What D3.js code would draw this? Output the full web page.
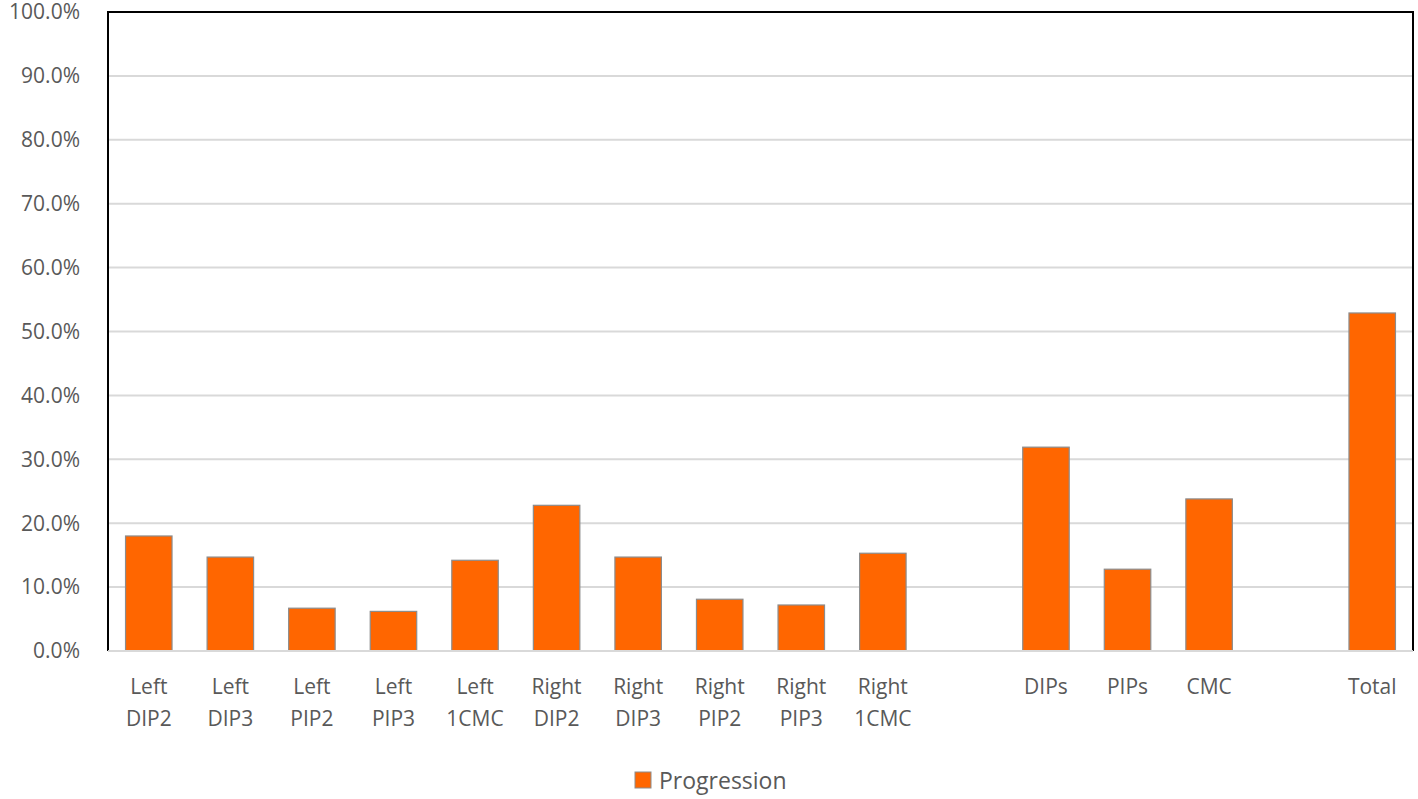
<!DOCTYPE html>
<html>
<head>
<meta charset="utf-8">
<script src="https://cdn.jsdelivr.net/npm/d3@7"></script>
<style>
  body { margin: 0; background: #fff; }
  text { font-family: "Open Sans", "DejaVu Sans", sans-serif; fill: #595959; }
</style>
</head>
<body>
<div class="canvas"></div>
<script>
// categories, blank slots are spacers between groups
const categories = ["Left\nDIP2", "Left\nDIP3", "Left\nPIP2", "Left\nPIP3", "Left\n1CMC",
  "Right\nDIP2", "Right\nDIP3", "Right\nPIP2", "Right\nPIP3", "Right\n1CMC",
  "gap1", "DIPs", "PIPs", "CMC", "gap2", "Total"];
const progression = [18.0, 14.7, 6.7, 6.2, 14.2, 22.8, 14.7, 8.1, 7.2, 15.3,
  null, 31.9, 12.8, 23.8, null, 52.9];
const yTicks = [0, 10, 20, 30, 40, 50, 60, 70, 80, 90, 100];

const dims = { width: 1418, height: 799 };
const m = { left: 108, right: 5, top: 12, bottom: 148 };

const svg = d3.select('.canvas').append('svg')
  .attr('width', dims.width)
  .attr('height', dims.height);

const x = d3.scaleBand()
  .domain(categories)
  .range([m.left, dims.width - m.right])
  .paddingInner(0.43)
  .paddingOuter(0.215);

const y = d3.scaleLinear()
  .domain([0, 100])
  .range([dims.height - m.bottom, m.top]);

// gridlines
svg.append('g').selectAll('line')
  .data(yTicks.slice(1, -1))
  .enter().append('line')
  .attr('x1', m.left).attr('x2', dims.width - m.right)
  .attr('y1', d => y(d)).attr('y2', d => y(d))
  .attr('stroke', '#d9d9d9').attr('stroke-width', 2);

// y labels
svg.append('g').selectAll('text')
  .data(yTicks)
  .enter().append('text')
  .attr('x', 80).attr('y', d => y(d))
  .attr('dy', '0.35em')
  .attr('text-anchor', 'end')
  .style('font-size', '21px')
  .text(d => d.toFixed(1) + '%');

// bars
const bars = categories.map((c, i) => ({ cat: c, v: progression[i] })).filter(d => d.v != null);
svg.append('g').selectAll('rect')
  .data(bars)
  .enter().append('rect')
  .attr('x', d => x(d.cat))
  .attr('width', x.bandwidth())
  .attr('y', d => y(d.v))
  .attr('height', d => y(0) - y(d.v))
  .attr('fill', '#ff6600')
  .attr('stroke', '#8c8c8c')
  .attr('stroke-width', 1.2);

// frame: black on left/top/right, gray axis at bottom
const x0 = m.left, x1 = dims.width - m.right, yT = m.top, yB = y(0);
svg.append('path')
  .attr('d', `M${x0},${yB}V${yT}H${x1}V${yB}`)
  .attr('fill', 'none').attr('stroke', '#000').attr('stroke-width', 2);
svg.append('line')
  .attr('x1', x0).attr('x2', x1).attr('y1', yB).attr('y2', yB)
  .attr('stroke', '#d9d9d9').attr('stroke-width', 2);

// x labels
const lab = svg.append('g').selectAll('text')
  .data(categories.filter(c => !c.startsWith('gap')))
  .enter().append('text')
  .attr('text-anchor', 'middle')
  .attr('x', c => x(c) + x.bandwidth() / 2)
  .attr('y', 694)
  .style('font-size', '21px');
lab.each(function (c) {
  const t = d3.select(this);
  c.split('\n').forEach((s, i) => {
    t.append('tspan').attr('x', x(c) + x.bandwidth() / 2).attr('dy', i ? 32 : 0).text(s);
  });
});

// legend
svg.append('rect')
  .attr('x', 635).attr('y', 772).attr('width', 16).attr('height', 16)
  .attr('fill', '#ff6600').attr('stroke', '#8c8c8c');
svg.append('text')
  .attr('x', 659).attr('y', 789)
  .style('font-size', '23px')
  .text('Progression');
</script>
</body>
</html>
